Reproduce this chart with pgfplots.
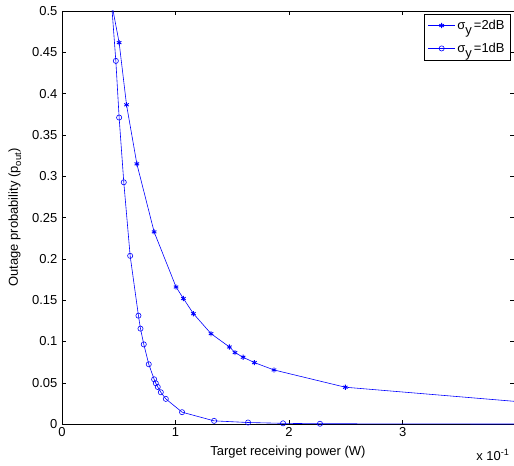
\documentclass[border=0pt]{standalone}
\usepackage{fontspec}
\setmainfont{Liberation Sans}
\usepackage{pgfplots}
\pgfplotsset{compat=1.18}
\definecolor{mblue}{RGB}{0,0,255}
\newcommand{\mfont}{\fontsize{13}{15}\selectfont}

\begin{document}
\begin{tikzpicture}[font=\mfont]
\begin{axis}[
  name=ax,
  width=453pt, height=414pt, scale only axis,
  xmin=0, xmax=3.98, ymin=0, ymax=0.5,
  xtick={0,1,2,3}, xticklabels={0,1,2,3},
  ytick={0,0.05,0.1,0.15,0.2,0.25,0.3,0.35,0.4,0.45,0.5},
  yticklabels={0,0.05,0.1,0.15,0.2,0.25,0.3,0.35,0.4,0.45,0.5},
  tick align=inside, major tick length=4pt,
  axis line style={line width=0.5pt},
  tick style={line width=0.5pt, black},
  tick label style={font=\mfont},
  label style={font=\mfont},
  yticklabel style={xshift=-1pt},
  xlabel={Target receiving power (W)},
  ylabel={Outage probability (p\raisebox{-0.45ex}{\fontsize{9.5}{10}\selectfont out})},
  xlabel style={at={(axis description cs:0.5,0)}, anchor=base, yshift=-31pt},
  ylabel style={at={(axis description cs:-0.104,0.5)}, anchor=center},
  legend style={at={(rel axis cs:0.993,0.993)}, anchor=north east,
    draw=black, line width=0.5pt, row sep=8pt, inner sep=4pt,
    font=\mfont, cells={anchor=west}},
  legend image code/.code={\draw[mark repeat=2,mark phase=2]
    plot coordinates {(0cm,0cm) (0.47cm,0cm) (0.94cm,0cm)};},
  clip=true,
]
\addplot[mblue, line width=0.6pt, mark=asterisk, mark size=2.6pt,
  mark options={line width=0.9pt}] coordinates {
  (0.40,0.537) (0.504,0.4617) (0.569,0.3865) (0.660,0.315) (0.812,0.2327)
  (1.005,0.166) (1.070,0.152) (1.158,0.1337) (1.313,0.1095)
  (1.475,0.0934) (1.524,0.0866) (1.595,0.081) (1.695,0.0745)
  (1.867,0.0656) (2.495,0.0447) (5.0,0.016)
};
\addlegendentry{σ\raisebox{-0.75ex}{y}\,=2dB}
\addplot[mblue, line width=0.6pt, mark=o, mark size=2.6pt] coordinates {
  (0.41,0.56) (0.475,0.4396) (0.504,0.371) (0.545,0.2927) (0.601,0.2037)
  (0.674,0.1313) (0.692,0.1156) (0.721,0.0966) (0.765,0.0725)
  (0.812,0.0543) (0.827,0.0495) (0.844,0.045) (0.871,0.0386)
  (0.915,0.0306) (1.058,0.0145) (1.340,0.004) (1.639,0.002)
  (1.947,0.001) (2.272,0.0005) (5.0,0.0)
};
\addlegendentry{σ\raisebox{-0.75ex}{y}\,=1dB}
\end{axis}
\node[anchor=base west, inner sep=0pt] at ([xshift=-38pt,yshift=-36pt]ax.south east) {x 10\textsuperscript{-1}};
\pgfresetboundingbox
\path ([xshift=-62pt,yshift=-41pt]ax.south west) rectangle ([yshift=11pt]ax.north east);
\end{tikzpicture}
\end{document}
